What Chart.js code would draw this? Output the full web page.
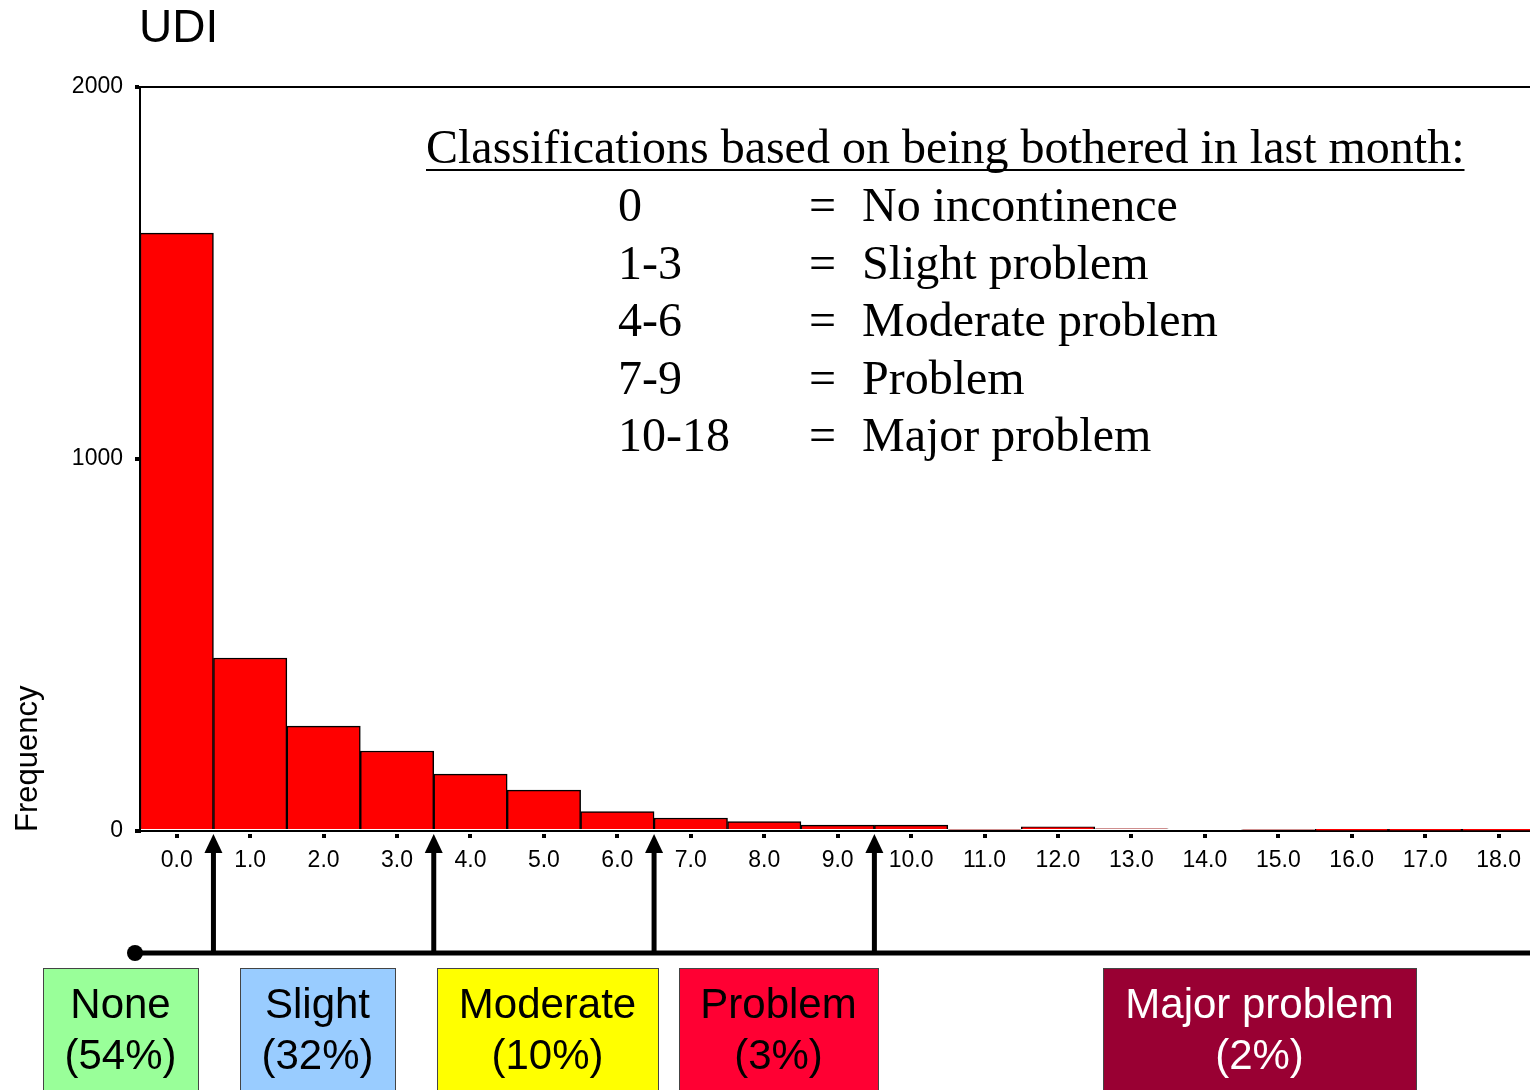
<!DOCTYPE html>
<html>
<head>
<meta charset="utf-8">
<title>UDI</title>
<script src="https://cdn.jsdelivr.net/npm/chart.js@4"></script>
<style>
  body { margin: 0; background: #fff; overflow: hidden; }
  #wrap { width: 1537px; height: 1090px; position: relative; }
</style>
</head>
<body>
<div id="wrap"><canvas id="chart"></canvas></div>
<script>
const categories = ['0.0', '1.0', '2.0', '3.0', '4.0', '5.0', '6.0', '7.0', '8.0', '9.0',
  '10.0', '11.0', '12.0', '13.0', '14.0', '15.0', '16.0', '17.0', '18.0'];
const frequencies = [1607, 465, 282, 215, 153, 110, 52, 35, 25, 16, 16, 5, 11, 6, 0, 5, 1, 1, 1];
const yTicks = [0, 1000, 2000];

const classRanges = ['0', '1-3', '4-6', '7-9', '10-18'];
const classNames = ['No incontinence', 'Slight problem', 'Moderate problem', 'Problem', 'Major problem'];
const groupNames = ['None', 'Slight', 'Moderate', 'Problem', 'Major problem'];
const groupShares = ['(54%)', '(32%)', '(10%)', '(3%)', '(2%)'];
const cutPoints = [0.5, 3.5, 6.5, 9.5];

// box positions/colours for the bottom legend
const boxes = [
  { x: 43, w: 155, fill: '#99ff99', text: '#000' },
  { x: 240, w: 155, fill: '#99ccff', text: '#000' },
  { x: 437, w: 221, fill: '#ffff00', text: '#000' },
  { x: 679, w: 199, fill: '#ff0033', text: '#000' },
  { x: 1103, w: 313, fill: '#990033', text: '#fff' }
];

const sans = '"Liberation Sans", Arial, sans-serif';
const serif = '"Liberation Serif", "Times New Roman", serif';

const annotations = {
  id: 'annotations',
  afterDraw(chart) {
    const ctx = chart.ctx;
    const area = chart.chartArea;
    const x = chart.scales.x;
    ctx.save();

    // title
    ctx.fillStyle = '#000';
    ctx.font = '46px ' + sans;
    ctx.textBaseline = 'middle';
    ctx.textAlign = 'left';
    ctx.fillText('UDI', 139, 29);

    // top frame line
    ctx.strokeStyle = '#000';
    ctx.lineWidth = 2;
    ctx.beginPath();
    ctx.moveTo(area.left, area.top);
    ctx.lineTo(area.right, area.top);
    ctx.stroke();

    // y title
    ctx.save();
    ctx.translate(28, 832);
    ctx.rotate(-Math.PI / 2);
    ctx.font = '31px ' + sans;
    ctx.textAlign = 'left';
    ctx.textBaseline = 'middle';
    ctx.fillText('Frequency', 0, 0);
    ctx.restore();

    // x tick squares
    ctx.fillStyle = '#000';
    categories.forEach((c, i) => {
      const px = x.getPixelForValue(i);
      ctx.fillRect(Math.round(px) - 2, area.bottom + 3, 4, 4);
    });

    // classification text
    ctx.font = '48px ' + serif;
    ctx.textBaseline = 'alphabetic';
    ctx.textAlign = 'left';
    const head = 'Classifications based on being bothered in last month:';
    ctx.fillText(head, 426, 163);
    const hw = ctx.measureText(head).width;
    ctx.fillRect(426, 169, hw, 2);
    classRanges.forEach((r, i) => {
      const by = 221 + i * 57.5;
      ctx.fillText(r, 618, by);
      ctx.fillText('=', 809, by);
      ctx.fillText(classNames[i], 862, by);
    });

    // horizontal line with dot
    const lineY = 953;
    ctx.lineWidth = 5;
    ctx.beginPath();
    ctx.moveTo(135, lineY);
    ctx.lineTo(1537, lineY);
    ctx.stroke();
    ctx.beginPath();
    ctx.arc(135, lineY, 8, 0, Math.PI * 2);
    ctx.fill();

    // arrows at class cut points
    cutPoints.forEach(v => {
      const px = x.getPixelForValue(v);
      ctx.lineWidth = 5;
      ctx.beginPath();
      ctx.moveTo(px, lineY);
      ctx.lineTo(px, 850);
      ctx.stroke();
      ctx.beginPath();
      ctx.moveTo(px, 834);
      ctx.lineTo(px - 9, 853);
      ctx.lineTo(px + 9, 853);
      ctx.closePath();
      ctx.fill();
    });

    // legend boxes
    ctx.font = '42px ' + sans;
    ctx.textAlign = 'center';
    ctx.textBaseline = 'middle';
    boxes.forEach((b, i) => {
      ctx.fillStyle = b.fill;
      ctx.fillRect(b.x, 968, b.w, 130);
      ctx.strokeStyle = '#444';
      ctx.lineWidth = 1;
      ctx.strokeRect(b.x + 0.5, 968.5, b.w, 130);
      ctx.fillStyle = b.text;
      ctx.fillText(groupNames[i], b.x + b.w / 2, 1006);
      ctx.fillText(groupShares[i], b.x + b.w / 2, 1057);
    });

    ctx.restore();
  }
};

new Chart(document.getElementById('chart'), {
  type: 'bar',
  data: {
    labels: categories,
    datasets: [{
      label: 'Frequency',
      data: frequencies,
      backgroundColor: '#ff0000',
      borderColor: '#000',
      borderWidth: 1.5,
      barPercentage: 1,
      categoryPercentage: 1
    }]
  },
  options: {
    responsive: true,
    maintainAspectRatio: false,
    animation: false,
    layout: { padding: { top: 87, left: 0, right: 0, bottom: 0 } },
    plugins: {
      legend: { display: false },
      tooltip: { enabled: false }
    },
    scales: {
      x: {
        afterFit(scale) { scale.height = 259; },
        grid: { display: false, drawTicks: false },
        border: { display: true, color: '#000', width: 2 },
        ticks: {
          color: '#000',
          font: { family: sans, size: 23 },
          padding: 16,
          maxRotation: 0,
          autoSkip: false
        }
      },
      y: {
        min: 0,
        max: 2000,
        afterFit(scale) { scale.width = 140; },
        afterBuildTicks(scale) { scale.ticks = yTicks.map(v => ({ value: v })); },
        grid: { drawOnChartArea: false, tickLength: 5, lineWidth: 4, color: '#000' },
        border: { display: true, color: '#000', width: 2 },
        ticks: {
          color: '#000',
          font: { family: sans, size: 23 },
          padding: 12,
          callback: v => String(v)
        }
      }
    }
  },
  plugins: [annotations]
});
</script>
</body>
</html>
